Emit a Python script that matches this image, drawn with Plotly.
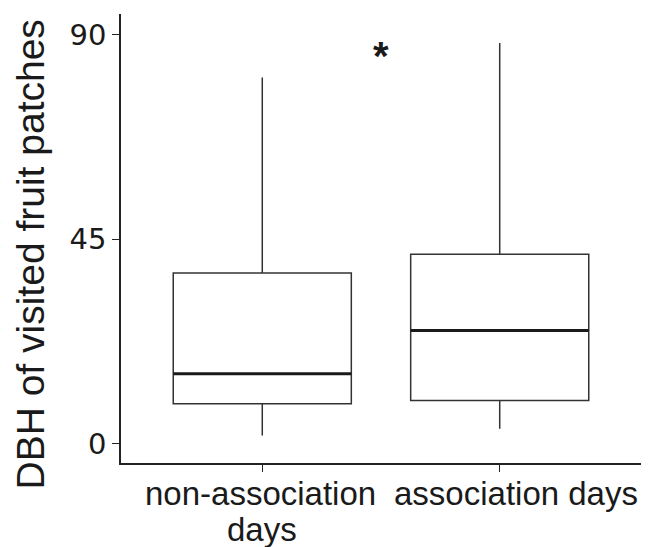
import plotly.graph_objects as go

categories = ["non-association days", "association days"]
q1 = [8.8, 9.5]
median = [15.4, 24.9]
q3 = [37.6, 41.7]
lower_whisker = [1.8, 3.3]
upper_whisker = [80.6, 88.2]
y_ticks = [0, 45, 90]
y_title = "DBH of visited fruit patches"
sig_label = "*"
sig_y = 86.7

TEXT_FONT = "Liberation Sans"
TICK_FONT = "DejaVu Sans"
TXT = "#1a1a1a"
box_width = 0.75
line_col = "#333333"
xs = list(range(len(categories)))

fig = go.Figure()
for i in xs:
    fig.add_trace(go.Box(
        x=[i], q1=[q1[i]], median=[median[i]], q3=[q3[i]],
        lowerfence=[lower_whisker[i]], upperfence=[upper_whisker[i]],
        width=box_width, whiskerwidth=0,
        fillcolor="white", line=dict(color=line_col, width=1.5),
        boxpoints=False, showlegend=False, hoverinfo="skip",
    ))
    # thicker median line
    fig.add_trace(go.Scatter(
        x=[i - box_width / 2, i + box_width / 2], y=[median[i], median[i]],
        mode="lines", line=dict(color="#1a1a1a", width=3),
        showlegend=False, hoverinfo="skip",
    ))

# x category labels (wrapped as in the original: first label on two lines)
first_words = ["non-association", "association days"]
label_xshift = [-2, 16]
for i in xs:
    fig.add_annotation(x=i, y=0, xref="x", yref="paper", text=first_words[i],
                       showarrow=False, yanchor="top", yshift=-10, xshift=label_xshift[i],
                       font=dict(size=33, family=TEXT_FONT, color=TXT))
fig.add_annotation(x=0, y=0, xref="x", yref="paper",
                   text=categories[0].split(" ")[-1],
                   showarrow=False, yanchor="top", yshift=-46,
                   font=dict(size=33, family=TEXT_FONT, color=TXT))

# y axis title
fig.add_annotation(x=0, y=0.5, xref="paper", yref="paper", text=y_title,
                   textangle=-90, showarrow=False, xanchor="center", yanchor="middle",
                   xshift=-91, yshift=-16,
                   font=dict(size=39, family=TEXT_FONT, color=TXT))

fig.add_annotation(x=0.5, y=sig_y, text=sig_label, showarrow=False,
                   yshift=-6,
                   font=dict(size=40, color=TXT, family="Liberation Sans", weight="bold"),
                   xref="x", yref="y")

fig.update_layout(
    width=657, height=547,
    # page body adds an 8px offset; margins compensate for it
    margin=dict(l=113, r=24, t=6, b=92),
    paper_bgcolor="white", plot_bgcolor="white",
    font=dict(family=TEXT_FONT, color=TXT),
    xaxis=dict(
        range=[-0.595, 1.595], tickvals=xs, ticktext=["", ""],
        showline=True, linecolor="#222222", linewidth=1.5,
        ticks="outside", ticklen=7, tickcolor="#222222", tickwidth=1.3,
        showgrid=False, zeroline=False, automargin=False,
    ),
    yaxis=dict(
        range=[-4.25, 94.6], tickvals=y_ticks,
        showline=True, linecolor="#222222", linewidth=1.5,
        ticks="outside", ticklen=7, tickcolor="#222222", tickwidth=1.3,
        showgrid=False, zeroline=False, automargin=False,
        tickfont=dict(size=29, family=TICK_FONT, color=TXT),
    ),
)

fig.write_html("out.html")
